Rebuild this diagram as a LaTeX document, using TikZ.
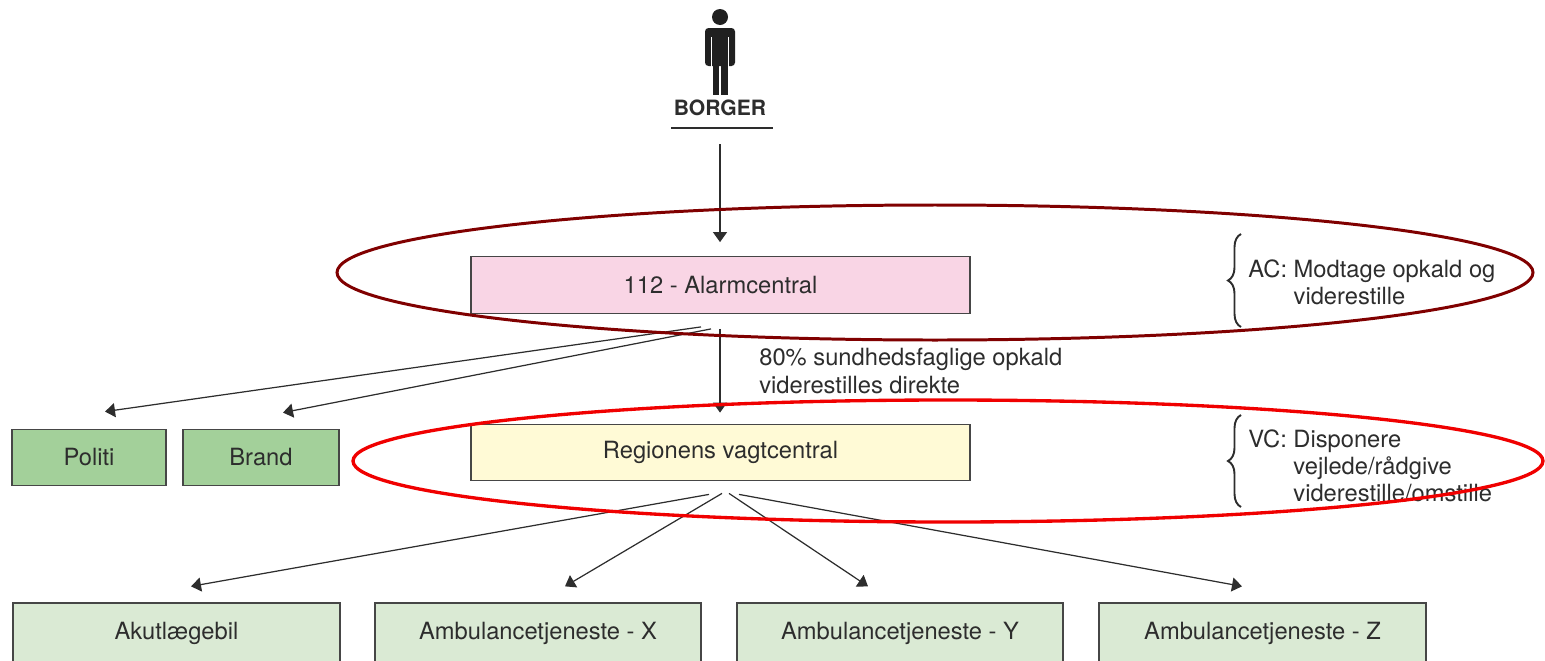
\documentclass[tikz,border=0pt]{standalone}
\usepackage{fontspec}
\setmainfont{TeX Gyre Heros}
\usetikzlibrary{arrows.meta,decorations.pathreplacing}

\definecolor{acpink}{RGB}{249,213,229}
\definecolor{vcyellow}{RGB}{255,250,214}
\definecolor{unitgreen}{RGB}{163,208,154}
\definecolor{ambgreen}{RGB}{218,234,212}
\definecolor{boxgray}{RGB}{70,70,70}
\definecolor{txtgray}{RGB}{45,45,45}
\definecolor{ringdark}{RGB}{128,0,0}
\definecolor{ringred}{RGB}{240,0,0}

\tikzset{
 box/.style={draw=boxgray, line width=0.75pt, inner sep=0pt, minimum height=1.13cm},
 arr/.style={draw=txtgray, line width=0.7pt, -{Triangle[width=0.28cm,length=0.2cm]}},
 curly/.style={draw=txtgray, line width=1.1pt, decorate, decoration={brace, amplitude=0.26cm}}
}

\begin{document}
\begin{tikzpicture}[x=0.02cm, y=-0.02cm, font=\fontsize{13.5}{15.5}\selectfont, text=txtgray]
 \useasboundingbox (0,0) rectangle (1545,660);
 \clip (0,0) rectangle (1545,660);

 % borger
 \fill[txtgray!70!black] (720,17) circle [radius=8];
 \fill[txtgray!70!black, rounded corners=2pt] (705,66) -- (705,28) -- (735,28) -- (735,66) -- cycle;
 \fill[txtgray!70!black] (712.5,60) rectangle (719.3,95);
 \fill[txtgray!70!black] (720.7,60) rectangle (727.5,95);
 \draw[white, line width=0.6pt] (711.5,37) -- (711.5,67);
 \draw[white, line width=0.6pt] (728.5,37) -- (728.5,67);
 \node[font=\fontsize{12}{14}\selectfont\bfseries] (borger) at (720,108) {BORGER};
 \draw[txtgray, line width=0.8pt] (671,128) -- (773,128);
 \coordinate (call) at (720,144);

 % centraler
 \node[box, fill=acpink, minimum width=9.98cm] (ac) at (720.5,285) {112 - Alarmcentral};
 \node[box, fill=vcyellow, minimum width=9.98cm] (vc) at (720.5,452.5) {Regionens vagtcentral};
 \node[box, fill=unitgreen, minimum width=3.08cm] (politi) at (89,457.5) {Politi};
 \node[box, fill=unitgreen, minimum width=3.12cm] (brand) at (261,457.5) {Brand};

 % enheder
 \node[box, fill=ambgreen, minimum width=6.54cm, minimum height=1.2cm] (akut) at (176.5,633) {Akutlægebil};
 \node[box, fill=ambgreen, minimum width=6.52cm, minimum height=1.2cm] (ambX) at (538,633) {Ambulancetjeneste - X};
 \node[box, fill=ambgreen, minimum width=6.52cm, minimum height=1.2cm] (ambY) at (900,633) {Ambulancetjeneste - Y};
 \node[box, fill=ambgreen, minimum width=6.54cm, minimum height=1.2cm] (ambZ) at (1262.5,633) {Ambulancetjeneste - Z};

 \draw[arr] (call) -- ([shift={(-0.5,-14)}]ac.north);
 \draw[arr] ([shift={(-19.5,13)}]ac.south) -- ([shift={(16,-17)}]politi.north);
 \draw[arr] ([shift={(-9.5,15)}]ac.south) -- ([shift={(22,-16)}]brand.north);
 \draw[arr] ([shift={(-0.5,15)}]ac.south) -- ([shift={(-0.5,-11)}]vc.north);
 \node[anchor=west, align=left, inner sep=0pt] (direkte) at (759,371) {80\% sundhedsfaglige opkald\\viderestilles direkte};

 \draw[arr] ([shift={(-11.5,13)}]vc.south) -- ([shift={(14.5,-16)}]akut.north);
 \draw[arr] ([shift={(1.5,12)}]vc.south) -- ([shift={(27,-16)}]ambX.north);
 \draw[arr] ([shift={(8.5,12)}]vc.south) -- ([shift={(-32,-16)}]ambY.north);
 \draw[arr] ([shift={(18.5,13)}]vc.south) -- ([shift={(-20.5,-16)}]ambZ.north);

 % opgaver
 \draw[curly] (1241,327) -- (1241,234);
 \node[anchor=west, align=left, inner sep=0pt] (acrole) at (1248,282) {AC: Modtage opkald og\\\phantom{AC: }viderestille};
 \draw[curly] (1241,507) -- (1241,415);
 \node[anchor=west, align=left, inner sep=0pt] (vcrole) at (1248,466) {VC: Disponere\\\phantom{VC: }vejlede/rådgive\\\phantom{VC: }viderestille/omstille};

 % ringe
 \draw[ringdark, line width=1.7pt] (935,272.5) ellipse [x radius=598, y radius=67.5];
 \draw[ringred, line width=1.9pt] (948,461) ellipse [x radius=595, y radius=61];
\end{tikzpicture}
\end{document}
